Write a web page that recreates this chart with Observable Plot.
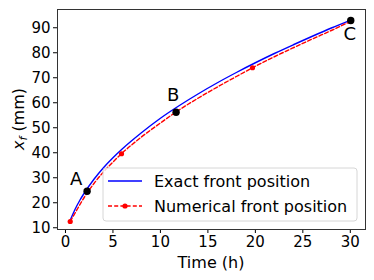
<!DOCTYPE html>
<html><head><meta charset="utf-8">
<script src="https://cdn.jsdelivr.net/npm/d3@7"></script>
<script src="https://cdn.jsdelivr.net/npm/@observablehq/plot@0.6"></script>
<style>body{margin:0;background:#fff;} svg{display:block;}</style>
</head><body><div id="chart"></div>
<script>
// Exact front position
const exactT = [0.5, 1, 1.5, 2, 3, 4, 5, 6, 8, 10, 12, 14, 16, 18, 20, 22, 24, 26, 28, 30];
const exactX = [13, 17.3, 20.9, 24, 29.4, 34, 38, 41.6, 48, 53.8, 58.9, 63.6, 68, 72.1, 76, 79.7, 83.2, 86.6, 89.9, 93];
// Numerical front position (dashed curve)
const numT = [0.5, 1, 2, 3, 4, 5, 5.9, 8, 10, 11.6, 14, 16, 18, 19.7, 22, 24, 26, 28, 30];
const numX = [12.5, 15.8, 22.3, 27.7, 32.3, 36.3, 39.6, 46.3, 51.9, 56.2, 61.9, 66.3, 70.5, 74, 78.4, 82, 85.5, 88.9, 92.5];
// markers on the numerical curve
const numMarkT = [0.5, 5.9, 11.6, 19.7, 30];
const numMarkX = [12.5, 39.6, 56.2, 74, 92.5];
// labelled points
const ptLabel = ["A", "B", "C"];
const ptT = [2.28, 11.65, 30.05];
const ptX = [24.6, 56.2, 92.9];
const xTicks = [0, 5, 10, 15, 20, 25, 30];
const yTicks = [10, 20, 30, 40, 50, 60, 70, 80, 90];

const exact = exactT.map((t, i) => ({t, x: exactX[i]}));
const num = numT.map((t, i) => ({t, x: numX[i]}));
const numMarks = numMarkT.map((t, i) => ({t, x: numMarkX[i]}));
const pts = ptLabel.map((l, i) => ({l, t: ptT[i], x: ptX[i]}));

const font = "DejaVu Sans, sans-serif";
const svg = Plot.plot({
  width: 374, height: 280,
  marginLeft: 57, marginRight: 9, marginTop: 9, marginBottom: 51,
  style: {fontFamily: font, fontSize: "15px", color: "#000", background: "#fff"},
  x: {domain: [-0.84, 31.6]},
  y: {domain: [9.3, 97.3]},
  marks: [
    Plot.axisX({ticks: xTicks, tickSize: 4, tickPadding: 3, fontSize: 15, label: null}),
    Plot.axisY({ticks: yTicks, tickSize: 4, tickPadding: 3, fontSize: 15, label: null}),
    Plot.line(exact, {x: "t", y: "x", stroke: "#0000ff", strokeWidth: 1.4, curve: "monotone-x"}),
    Plot.line(num, {x: "t", y: "x", stroke: "#ff0000", strokeWidth: 1.4, strokeDasharray: "4,2.2", curve: "monotone-x"}),
    Plot.dot(numMarks, {x: "t", y: "x", r: 2.6, fill: "#ff0000"}),
    Plot.dot(pts, {x: "t", y: "x", r: 3.7, fill: "#000"}),
    Plot.text(pts.filter(d => d.l === "A"), {x: "t", y: "x", text: "l", dx: -11, dy: -12, fontSize: 18, fill: "#000"}),
    Plot.text(pts.filter(d => d.l === "B"), {x: "t", y: "x", text: "l", dx: -3, dy: -17, fontSize: 18, fill: "#000"}),
    Plot.text(pts.filter(d => d.l === "C"), {x: "t", y: "x", text: "l", dx: -1, dy: 14, fontSize: 18, fill: "#000"}),
    Plot.frame({stroke: "#333", strokeWidth: 1})
  ]
});

const fr = {left: 57, right: 365, top: 9, bottom: 229};
const S = d3.select(svg);
// axis titles
S.append("text").attr("x", (fr.left + fr.right) / 2).attr("y", 268).attr("text-anchor", "middle")
  .attr("font-family", font).attr("font-size", 16).attr("fill", "#000").text("Time (h)");
const yl = S.append("text").attr("transform", `translate(24,${(fr.top + fr.bottom) / 2}) rotate(-90)`)
  .attr("text-anchor", "middle").attr("font-family", font).attr("font-size", 16).attr("fill", "#000");
yl.append("tspan").attr("font-style", "italic").text("x");
yl.append("tspan").attr("font-style", "italic").attr("font-size", "11px").attr("dy", "3").text("f");
yl.append("tspan").attr("dy", "-3").text(" (mm)");

// legend inside frame (lower right)
const L = S.append("g").attr("font-family", font).attr("font-size", 16).attr("text-anchor", "start");
const bx = 103, bw = fr.right - 8 - bx, bh = 53, by = fr.bottom - 8 - bh;
L.append("rect").attr("x", bx).attr("y", by).attr("width", bw).attr("height", bh).attr("rx", 3)
  .attr("fill", "#fff").attr("fill-opacity", 0.8).attr("stroke", "#d6d6d6");
const rows = [
  {label: "Exact front position", color: "#0000ff", dash: null, marker: false},
  {label: "Numerical front position", color: "#ff0000", dash: "4,2.2", marker: true}
];
rows.forEach((r, i) => {
  const y = by + 13 + i * 25;
  L.append("line").attr("x1", bx + 5).attr("x2", bx + 39).attr("y1", y).attr("y2", y)
    .attr("stroke", r.color).attr("stroke-width", 1.4).attr("stroke-dasharray", r.dash);
  if (r.marker) L.append("circle").attr("cx", bx + 22).attr("cy", y).attr("r", 2.6).attr("fill", r.color);
  L.append("text").attr("x", bx + 51).attr("y", y).attr("dy", "0.35em").attr("fill", "#000").text(r.label);
});

document.getElementById("chart").appendChild(svg);
</script></body></html>
